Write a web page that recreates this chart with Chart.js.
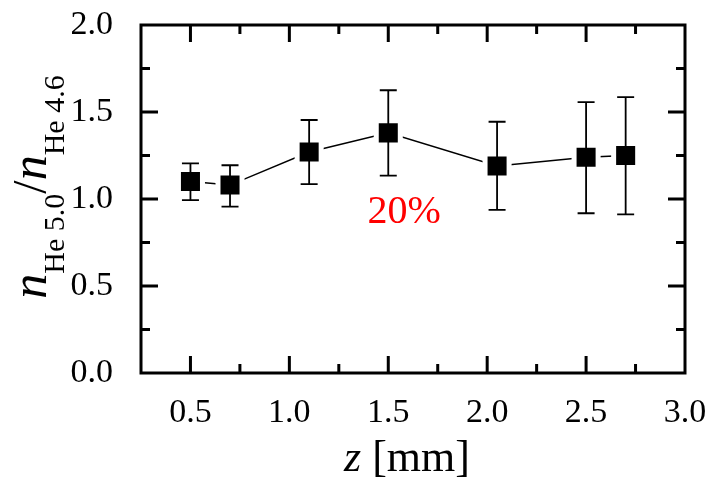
<!DOCTYPE html>
<html>
<head>
<meta charset="utf-8">
<script src="https://cdn.jsdelivr.net/npm/chart.js@4.4.1/dist/chart.umd.min.js"></script>
<style>
  html, body { margin: 0; padding: 0; background: #fff; }
</style>
</head>
<body>
<canvas id="ratioChart" width="709" height="483"></canvas>
<script>
// values
const zValues = [0.5, 0.7, 1.1, 1.5, 2.05, 2.5, 2.7];
const ratioValues = [1.10, 1.08, 1.27, 1.38, 1.19, 1.24, 1.25];
const errHigh = [1.205, 1.194, 1.454, 1.625, 1.444, 1.557, 1.586];
const errLow = [0.994, 0.956, 1.086, 1.134, 0.937, 0.918, 0.912];

const xTickValues = [0.5, 1.0, 1.5, 2.0, 2.5, 3.0];
const xMinorTicks = [0.75, 1.25, 1.75, 2.25, 2.75];
const yTickValues = [0.0, 0.5, 1.0, 1.5, 2.0];
const yMinorTicks = [0.25, 0.75, 1.25, 1.75];

const noteText = '20%';
const notePos = [1.58, 0.92];

const serif = '"Liberation Serif", "Times New Roman", serif';

const points = zValues.map((z, i) => ({ x: z, y: ratioValues[i] }));

// error bars on top of the markers
const errorBars = {
    id: 'errorBars',
    afterDatasetsDraw(chart) {
        const { ctx, scales: { x, y } } = chart;
        ctx.save();
        ctx.strokeStyle = '#000';
        ctx.lineWidth = 1.8;
        zValues.forEach((z, i) => {
            const px = x.getPixelForValue(z);
            const top = y.getPixelForValue(errHigh[i]);
            const bot = y.getPixelForValue(errLow[i]);
            ctx.beginPath();
            ctx.moveTo(px, top);
            ctx.lineTo(px, bot);
            ctx.moveTo(px - 8.5, top);
            ctx.lineTo(px + 8.5, top);
            ctx.moveTo(px - 8.5, bot);
            ctx.lineTo(px + 8.5, bot);
            ctx.stroke();
        });
        ctx.restore();
    }
};

// frame, inward ticks on all four sides, axis titles and the note
const frameAndText = {
    id: 'frameAndText',
    afterDraw(chart) {
        const { ctx, chartArea: a, scales: { x, y } } = chart;
        ctx.save();
        ctx.strokeStyle = '#000';
        ctx.lineWidth = 3;
        ctx.lineCap = 'butt';
        ctx.strokeRect(a.left, a.top, a.right - a.left, a.bottom - a.top);

        const tick = (vals, len, horiz) => {
            vals.forEach(v => {
                ctx.beginPath();
                if (horiz) {
                    const px = x.getPixelForValue(v);
                    ctx.moveTo(px, a.bottom); ctx.lineTo(px, a.bottom - len);
                    ctx.moveTo(px, a.top); ctx.lineTo(px, a.top + len);
                } else {
                    const py = y.getPixelForValue(v);
                    ctx.moveTo(a.left, py); ctx.lineTo(a.left + len, py);
                    ctx.moveTo(a.right, py); ctx.lineTo(a.right - len, py);
                }
                ctx.stroke();
            });
        };
        tick(xTickValues.filter(v => v < 3), 17, true);
        tick(xMinorTicks, 9, true);
        tick(yTickValues.filter(v => v > 0 && v < 2), 17, false);
        tick(yMinorTicks, 9, false);

        // x title: z [mm]
        ctx.fillStyle = '#000';
        ctx.textBaseline = 'alphabetic';
        ctx.textAlign = 'left';
        const xParts = [
            { t: 'z', f: 'italic 44px ' + serif },
            { t: ' [mm]', f: '44px ' + serif }
        ];
        let w = 0;
        xParts.forEach(p => { ctx.font = p.f; w += ctx.measureText(p.t).width; });
        let cx = (a.left + a.right) / 2 - 6 - w / 2;
        xParts.forEach(p => { ctx.font = p.f; ctx.fillText(p.t, cx, 471); cx += ctx.measureText(p.t).width; });

        // y title: n_He5.0 / n_He4.6
        const yParts = [
            { t: 'n', f: 'italic 50px ' + serif, dy: 0 },
            { t: 'He 5.0', f: '30px ' + serif, dy: 18 },
            { t: '/', f: '48px ' + serif, dy: 0 },
            { t: 'n', f: 'italic 50px ' + serif, dy: 0 },
            { t: 'He 4.6', f: '30px ' + serif, dy: 18 }
        ];
        ctx.save();
        ctx.translate(46, (a.top + a.bottom) / 2 - 12);
        ctx.rotate(-Math.PI / 2);
        w = 0;
        yParts.forEach(p => { ctx.font = p.f; w += ctx.measureText(p.t).width; });
        let tx = -w / 2;
        yParts.forEach(p => { ctx.font = p.f; ctx.fillText(p.t, tx, p.dy); tx += ctx.measureText(p.t).width; });
        ctx.restore();

        // red note
        ctx.fillStyle = '#ff0000';
        ctx.font = '40px ' + serif;
        ctx.textAlign = 'center';
        ctx.textBaseline = 'middle';
        ctx.fillText(noteText, x.getPixelForValue(notePos[0]), y.getPixelForValue(notePos[1]));
        ctx.restore();
    }
};

const noPad = s => {
    s.paddingTop = 0;
    s.paddingBottom = 0;
    s.paddingLeft = 0;
    s.paddingRight = 0;
};

const data = {
    datasets: [{
        label: 'ratio',
        data: points,
        showLine: true,
        borderColor: '#000',
        borderWidth: 1.5,
        pointStyle: 'rect',
        pointRadius: 17,
        pointBackgroundColor: '#000',
        pointBorderColor: '#fff',
        pointBorderWidth: 5,
        pointHoverRadius: 17
    }]
};

const config = {
    type: 'scatter',
    data: data,
    options: {
        responsive: false,
        animation: false,
        events: [],
        layout: { padding: { top: 25, right: 24, left: 0, bottom: 0 } },
        plugins: { legend: { display: false }, tooltip: { enabled: false } },
        scales: {
            x: {
                type: 'linear',
                min: 0.25,
                max: 3.0,
                afterBuildTicks: s => { s.ticks = xTickValues.map(v => ({ value: v })); },
                afterFit: s => { s.height = 110; noPad(s); },
                grid: { display: false },
                border: { display: false },
                ticks: {
                    color: '#000',
                    font: { family: serif, size: 34 },
                    padding: 12,
                    maxRotation: 0,
                    callback: v => v.toFixed(1)
                }
            },
            y: {
                type: 'linear',
                min: 0,
                max: 2.0,
                afterBuildTicks: s => { s.ticks = yTickValues.map(v => ({ value: v })); },
                afterFit: s => { s.width = 141; noPad(s); },
                grid: { display: false },
                border: { display: false },
                ticks: {
                    color: '#000',
                    font: { family: serif, size: 34 },
                    padding: 20,
                    callback: v => v.toFixed(1)
                }
            }
        }
    },
    plugins: [errorBars, frameAndText]
};

// eslint-disable-next-line
const ratioChart = new Chart(document.querySelector('#ratioChart'), config);
</script>
</body>
</html>
